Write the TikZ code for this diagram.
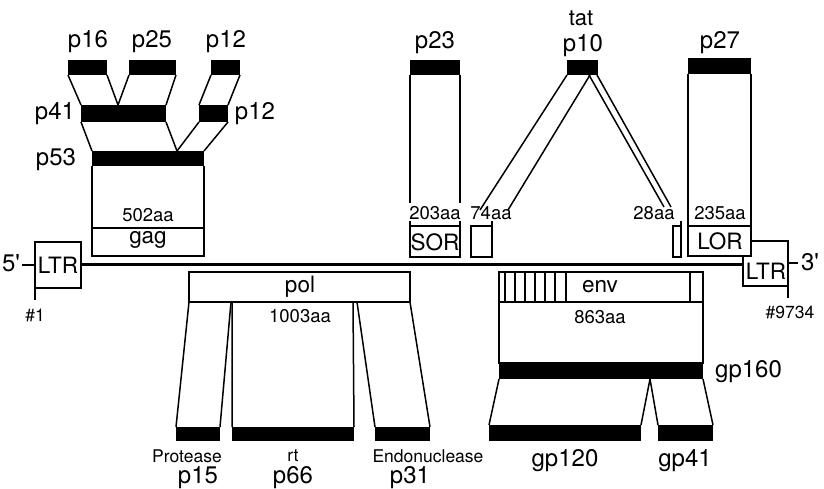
\documentclass[tikz,border=0pt]{standalone}
\usepackage{fontspec}
\setmainfont{TeX Gyre Heros}
\begin{document}
\begin{tikzpicture}[x=1pt,y=-1pt,
  ol/.style={line width=1.5pt},
  bar/.style={fill=black},
  big/.style={inner sep=0pt,font=\fontsize{24}{25}\selectfont},
  mid/.style={inner sep=0pt,font=\fontsize{22.5}{24}\selectfont},
  aa/.style={inner sep=0pt,font=\fontsize{18.5}{20}\selectfont},
  sm/.style={inner sep=0pt,font=\fontsize{17.5}{19}\selectfont}]
\useasboundingbox (0,0) rectangle (824,489);
% ---------- gag ----------
\fill[bar] (68,60) rectangle (107,75);
\fill[bar] (129,60) rectangle (176,75);
\fill[bar] (211,60) rectangle (240,75);
\fill[bar] (81,105) rectangle (166,122);
\fill[bar] (199,105) rectangle (228,122);
\fill[bar] (92,151) rectangle (204,166);
\draw[ol] (68,75)--(81,105) (107,75)--(118,105);
\draw[ol] (129,75)--(118,105) (176,75)--(166,105);
\draw[ol] (211,75)--(199,105) (240,75)--(228,105);
\draw[ol] (81,122)--(92,151) (166,122)--(177,151);
\draw[ol] (199,122)--(177,151) (228,122)--(204,151);
\draw[ol] (92,166)--(92,256)--(204,256)--(204,166);
\draw[ol] (92,228)--(204,228);
\node[big] (p16) at (88,42) {p16};
\node[big] (p25) at (152,42) {p25};
\node[big] (p12a) at (226,42) {p12};
\node[big] (p41) at (55,114) {p41};
\node[big] (p12b) at (255,114) {p12};
\node[big] (p53) at (56,160) {p53};
\node[aa] (a502) at (148,215) {502aa};
\node[mid] (gag) at (148,240) {gag};
% ---------- SOR ----------
\fill[bar] (410,60) rectangle (460,75);
\draw[ol] (410,75)--(410,203) (460,75)--(460,203);
\draw[ol] (410,221)--(410,257)--(460,257)--(460,221);
\draw[ol] (410,226)--(460,226);
\node[big] (p23) at (435,43) {p23};
\node[aa] (a203) at (435,213) {203aa};
\node[mid] (sor) at (435,242) {SOR};
% ---------- tat ----------
\fill[bar] (567,60) rectangle (598,75);
\draw[ol] (567,75)--(480,210) (590,75)--(508,210);
\draw[ol] (589,75)--(664,207) (597,75)--(671,207);
\draw[ol] (492,221)--(492,257)--(471,257)--(471,226)--(492,226);
\draw[ol] (681,221)--(681,257)--(673,257)--(673,226)--(681,226);
\node[inner sep=0pt,anchor=base,font=\fontsize{22}{23}\selectfont] (tat) at (581,26) {tat};
\node[big,anchor=base] (p10) at (583,52) {p10};
\node[aa] (a74) at (491,213) {74aa};
\node[aa] (a28) at (654,213) {28aa};
% ---------- LOR ----------
\fill[bar] (688,58) rectangle (751,74);
\draw[ol] (688,74)--(688,256)--(751,256)--(751,74);
\draw[ol] (688,226)--(751,226);
\node[big] (p27) at (720,43) {p27};
\node[aa] (a235) at (720,213) {235aa};
\node[mid] (lor) at (720,241) {LOR};
% ---------- genome line & LTRs ----------
\draw[line width=3pt] (81,264)--(743,264);
\draw[ol] (35,242) rectangle (81,288);
\node[mid] (ltr1) at (58,265) {LTR};
\draw[ol] (22,265)--(35,265);
\draw[ol] (35,288)--(35,300);
\node[big] (five) at (11,263) {5\textquotesingle};
\node[sm] (n1) at (35,315) {\#1};
\draw[ol] (751,241)--(788,241)--(788,286)--(743,286)--(743,256);
\node[mid] (ltr2) at (766,271) {LTR};
\draw[ol] (788,263)--(798,263);
\draw[ol] (788,286)--(788,298);
\node[big] (three) at (810,262) {3\textquotesingle};
\node[sm] (n9734) at (790,312) {\#9734};
% ---------- pol ----------
\draw[ol] (189,272) rectangle (410,302);
\node[mid] (pol) at (300,287) {pol};
\node[aa] (a1003) at (300,316) {1003aa};
\draw[ol] (189,302)--(176,427) (231,302)--(220,427);
\draw[ol] (232,302)--(232,427) (353,302)--(354,427);
\draw[ol] (357,302)--(375,427) (410,302)--(430,427);
\fill[bar] (176,427) rectangle (220,441);
\fill[bar] (232,427) rectangle (354,441);
\fill[bar] (375,427) rectangle (430,441);
\node[sm] (prot) at (187,456) {Protease};
\node[sm] (rt) at (293,456) {rt};
\node[sm] (endo) at (428,456) {Endonuclease};
\node[big] (p15) at (198,478) {p15};
\node[big] (p66) at (293,478) {p66};
\node[big] (p31) at (410,478) {p31};
% ---------- env ----------
\draw[ol] (499,272) rectangle (703,363);
\draw[ol] (499,302)--(703,302);
\foreach \sx in {505,515,525,535,545,555,566,690}
  \draw[line width=1.1pt] (\sx,272)--(\sx,302);
\node[mid] (env) at (600,287) {env};
\node[aa] (a863) at (600,317) {863aa};
\fill[bar] (499,363) rectangle (703,379);
\node[big,anchor=west] (gp160) at (715,372) {gp160};
\draw[ol] (499,379)--(489,425) (650,379)--(641,425);
\draw[ol] (650,379)--(658,425) (703,379)--(713,425);
\fill[bar] (489,425) rectangle (641,441);
\fill[bar] (658,425) rectangle (713,441);
\node[big] (gp120) at (565,461) {gp120};
\node[big] (gp41) at (685,461) {gp41};
\end{tikzpicture}
\end{document}
